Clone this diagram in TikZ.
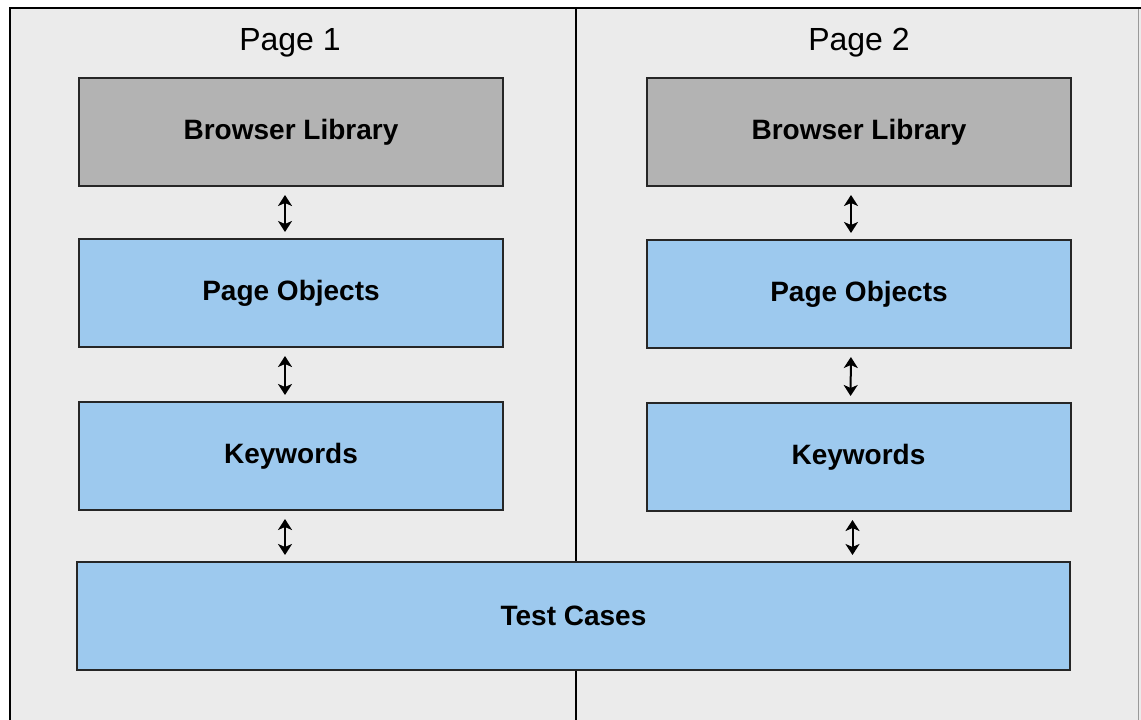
\documentclass[tikz,border=0pt]{standalone}
\usepackage{fontspec}
\setmainfont{Liberation Sans}
\usetikzlibrary{arrows.meta}
\definecolor{panelgray}{HTML}{EBEBEB}
\definecolor{libgray}{HTML}{B3B3B3}
\definecolor{layerblue}{HTML}{9DC9EE}
\begin{document}
\begin{tikzpicture}[x=1pt,y=-1pt,
    layer/.style={draw=black!85,line width=2pt,fill=layerblue,inner sep=0pt,outer sep=0pt,
      minimum width=424pt,minimum height=108pt,font=\fontsize{28}{30}\selectfont\bfseries},
    lib/.style={layer,fill=libgray},
    pagelabel/.style={font=\fontsize{32}{34}\selectfont},
    link/.style={{Stealth[length=11pt,width=14pt,inset=3pt]}-{Stealth[length=11pt,width=14pt,inset=3pt]},
      line width=2pt,shorten <=9pt,shorten >=7pt}]
  \useasboundingbox (0,0) rectangle (1141,720);
  \clip (0,0) rectangle (1141,720);
  \fill[white] (0,0) rectangle (1141,720);
  % panel and divider
  \draw[fill=panelgray,line width=2pt] (10,8) rectangle (1150,730);
  \draw[black!40,line width=1pt] (1138.5,9) -- (1138.5,720);
  \draw[line width=2pt] (576,8) -- (576,720);

  \node[pagelabel] (p1) at (290,43) {Page 1};
  \node[pagelabel] (p2) at (859,43) {Page 2};

  % page 1 stack
  \node[lib] (bl1) at (291,132) {Browser Library};
  \node[layer] (po1) at (291,293) {Page Objects};
  \node[layer] (kw1) at (291,456) {Keywords};
  % page 2 stack
  \node[lib] (bl2) at (859,132) {Browser Library};
  \node[layer] (po2) at (859,294) {Page Objects};
  \node[layer] (kw2) at (858.5,457) {Keywords};
  % shared test cases
  \node[layer,minimum width=993pt] (tc) at (573.5,616) {Test Cases};

  \draw[link] ([xshift=-6pt]bl1.south) -- ([xshift=-6pt]po1.north);
  \draw[link] ([xshift=-6pt]po1.south) -- ([xshift=-6pt]kw1.north);
  \draw[link] ([xshift=-6pt]kw1.south) -- ([xshift=-6pt]kw1.south |- tc.north);
  \draw[link] ([xshift=-8pt]bl2.south) -- ([xshift=-8pt]po2.north);
  \draw[link] ([xshift=-8pt]po2.south) -- ([xshift=-8pt]kw2.north);
  \draw[link] ([xshift=-6pt]kw2.south) -- ([xshift=-6pt]kw2.south |- tc.north);
\end{tikzpicture}
\end{document}
